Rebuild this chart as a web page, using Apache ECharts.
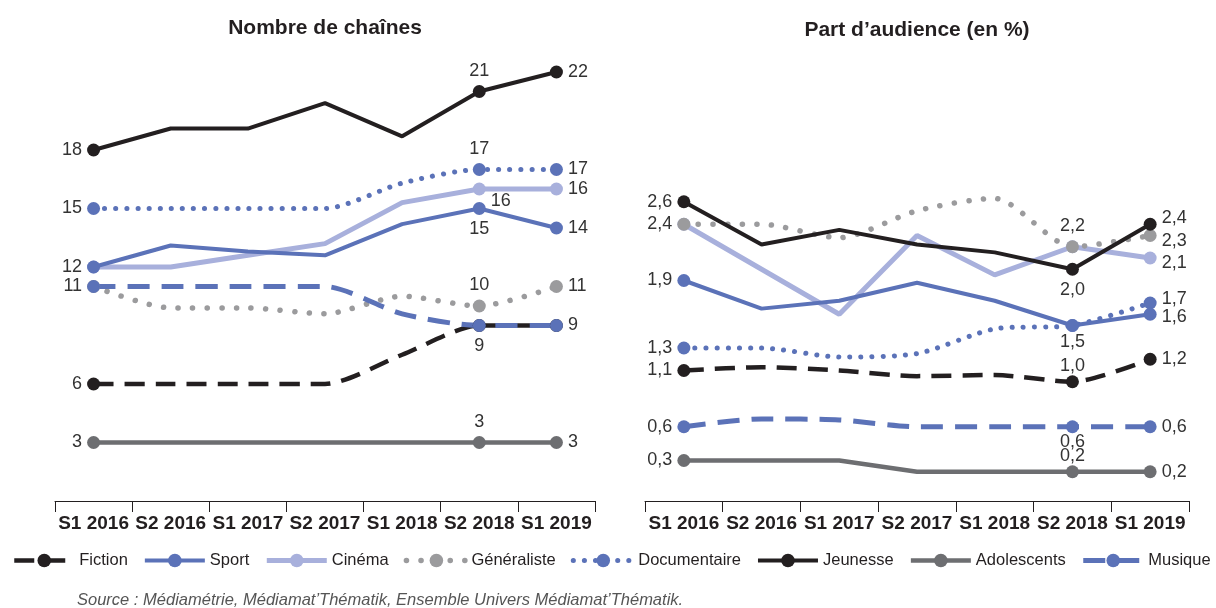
<!DOCTYPE html>
<html>
<head>
<meta charset="utf-8">
<title>Chaînes thématiques</title>
<script src="https://cdn.jsdelivr.net/npm/echarts@6/dist/echarts.min.js"></script>
<style>
  html, body { margin: 0; padding: 0; background: #fff; }
  #chart { width: 1216px; height: 608px; }
</style>
</head>
<body>
<div id="chart"></div>
<script>
const semestres = ["S1 2016", "S2 2016", "S1 2017", "S2 2017", "S1 2018", "S2 2018", "S1 2019"];
const genres = ["Fiction", "Sport", "Cinéma", "Généraliste", "Documentaire", "Jeunesse", "Adolescents", "Musique"];

// Nombre de chaînes
const chainesFiction = [6, 6, 6, 6, 7.5, 9, 9];
const chainesSport = [12, 13.1, 12.8, 12.6, 14.2, 15, 14];
const chainesCinema = [12, 12, 12.6, 13.2, 15.3, 16, 16];
const chainesGeneraliste = [11, 9.9, 9.9, 9.6, 10.5, 10, 11];
const chainesDocumentaire = [15, 15, 15, 15, 16.3, 17, 17];
const chainesJeunesse = [18, 19.1, 19.1, 20.4, 18.7, 21, 22];
const chainesAdolescents = [3, 3, 3, 3, 3, 3, 3];
const chainesMusique = [11, 11, 11, 11, 9.6, 9, 9];

// Part d'audience (en %)
const audienceFiction = [1.1, 1.13, 1.1, 1.05, 1.06, 1.0, 1.2];
const audienceSport = [1.9, 1.65, 1.72, 1.88, 1.72, 1.5, 1.6];
const audienceCinema = [2.4, 2.0, 1.6, 2.3, 1.95, 2.2, 2.1];
const audienceGeneraliste = [2.4, 2.4, 2.28, 2.52, 2.63, 2.2, 2.3];
const audienceDocumentaire = [1.3, 1.3, 1.22, 1.25, 1.47, 1.5, 1.7];
const audienceJeunesse = [2.6, 2.22, 2.35, 2.22, 2.15, 2.0, 2.4];
const audienceAdolescents = [0.3, 0.3, 0.3, 0.2, 0.2, 0.2, 0.2];
const audienceMusique = [0.6, 0.67, 0.66, 0.6, 0.6, 0.6, 0.6];

const chaines = [chainesFiction, chainesSport, chainesCinema, chainesGeneraliste,
  chainesDocumentaire, chainesJeunesse, chainesAdolescents, chainesMusique];
const audience = [audienceFiction, audienceSport, audienceCinema, audienceGeneraliste,
  audienceDocumentaire, audienceJeunesse, audienceAdolescents, audienceMusique];

const font = "Liberation Sans";

// line look per genre
const styles = {
  "Fiction": { color: "#231f20", width: 4.5, type: [20, 11], smooth: 0.25 },
  "Sport": { color: "#5b72b8", width: 4, type: "solid", z: 3 },
  "Cinéma": { color: "#a8b0dc", width: 5, type: "solid" },
  "Généraliste": { color: "#9b9b9d", width: 5.5, type: [0.1, 14.5], cap: "round", smooth: 0.25 },
  "Documentaire": { color: "#5b72b8", width: 5, type: [0.1, 11], cap: "round", smooth: 0.25 },
  "Jeunesse": { color: "#231f20", width: 4, type: "solid" },
  "Adolescents": { color: "#6d6e71", width: 4.5, type: "solid" },
  "Musique": { color: "#5b72b8", width: 5, type: [22, 12], smooth: 0.25 }
};

// which points carry a value label, and where
const labelsChaines = {
  "Fiction": { 0: "left", 5: "bottom", 6: "right" },
  "Sport": { 0: "left", 5: "bottom", 6: "right" },
  "Cinéma": { 5: { position: "right", offset: [0, 12] }, 6: "right" },
  "Généraliste": { 0: "left", 5: "top", 6: "right" },
  "Documentaire": { 0: "left", 5: "top", 6: "right" },
  "Jeunesse": { 0: "left", 5: "top", 6: "right" },
  "Adolescents": { 0: "left", 5: "top", 6: "right" },
  "Musique": {}
};
const labelsAudience = {
  "Fiction": { 0: "left", 5: { position: "top", distance: 0 }, 6: "right" },
  "Sport": { 0: "left", 5: { position: "bottom", distance: 1 }, 6: { position: "right", offset: [0, 3] } },
  "Cinéma": { 6: { position: "right", offset: [0, 5] } },
  "Généraliste": { 0: "left", 5: "top", 6: { position: "right", offset: [0, 6] } },
  "Documentaire": { 0: "left", 6: { position: "right", offset: [0, -4] } },
  "Jeunesse": { 0: "left", 5: "bottom", 6: { position: "right", offset: [0, -6] } },
  "Adolescents": { 0: "left", 5: { position: "top", distance: 0 }, 6: "right" },
  "Musique": { 0: "left", 5: { position: "bottom", distance: 0 }, 6: "right" }
};

function fmtInt(p) { return String(Math.round(p.value)); }
function fmtPct(p) { return p.value.toFixed(1).replace(".", ","); }

function buildData(values, labels, fmt) {
  return values.map(function (v, i) {
    const item = { value: v };
    // markers only at S1 2016, S2 2018, S1 2019
    if (i > 0 && i < 5) item.symbol = "none";
    let pos = labels[i];
    if (pos) {
      if (typeof pos === "string") pos = { position: pos };
      item.label = Object.assign({ show: true, formatter: fmt }, pos);
    }
    return item;
  });
}

function buildSeries(values, labels, fmt, axis) {
  return genres.map(function (g, k) {
    const s = styles[g];
    return {
      name: g,
      type: "line",
      xAxisIndex: axis,
      yAxisIndex: axis,
      z: s.z || 2,
      smooth: s.smooth || false,
      symbol: "circle",
      symbolSize: 13,
      showAllSymbol: true,
      lineStyle: { color: s.color, width: s.width, type: s.type, cap: s.cap || "butt" },
      itemStyle: { color: s.color },
      label: { show: false, fontFamily: font, fontSize: 18, color: "#333333", distance: 5 },
      emphasis: { disabled: true },
      data: buildData(values[k], labels[g], fmt)
    };
  });
}

function xAxis(idx) {
  return {
    type: "category",
    gridIndex: idx,
    data: semestres,
    boundaryGap: true,
    axisLine: { onZero: false, lineStyle: { color: "#231f20", width: 1 } },
    axisTick: { show: true, length: 11, lineStyle: { color: "#231f20", width: 1 } },
    axisLabel: { interval: 0, margin: 13, fontFamily: font, fontSize: 19, fontWeight: "bold", color: "#231f20" }
  };
}

const myChart = echarts.init(document.getElementById("chart"));
const option = {
  backgroundColor: "#ffffff",
  animation: false,
  graphic: [
    { type: "text", x: 325, y: 28, style: { text: "Nombre de chaînes", align: "center", textAlign: "center",
      verticalAlign: "middle", textVerticalAlign: "middle", font: "bold 21px " + font, fill: "#231f20" } },
    { type: "text", x: 917, y: 30, style: { text: "Part d\u2019audience (en %)", align: "center", textAlign: "center",
      verticalAlign: "middle", textVerticalAlign: "middle", font: "bold 21px " + font, fill: "#231f20" } },
    { type: "text", x: 77, y: 600, style: { text: "Source : Médiamétrie, Médiamat\u2019Thématik, Ensemble Univers Médiamat\u2019Thématik.",
      verticalAlign: "middle", textVerticalAlign: "middle", font: "italic 16.5px " + font, fill: "#555555" } }
  ],
  legend: {
    data: genres,
    left: 12,
    top: 552,
    padding: 0,
    itemWidth: 60,
    itemHeight: 17,
    itemGap: 15,
    lineStyle: { width: "inherit", type: "inherit", cap: "inherit" },
    textStyle: { fontFamily: font, fontSize: 16.5, color: "#231f20" }
  },
  grid: [
    { left: 55, width: 540, top: 33, bottom: 107 },
    { left: 645, width: 544, top: 33, bottom: 107 }
  ],
  xAxis: [xAxis(0), xAxis(1)],
  yAxis: [
    { type: "value", gridIndex: 0, min: 0, max: 24, show: false },
    { type: "value", gridIndex: 1, min: -0.06, max: 4.1, show: false }
  ],
  series: buildSeries(chaines, labelsChaines, fmtInt, 0)
    .concat(buildSeries(audience, labelsAudience, fmtPct, 1))
};
myChart.setOption(option);
window.addEventListener("resize", function () {
  myChart.resize();
});
</script>
</body>
</html>
